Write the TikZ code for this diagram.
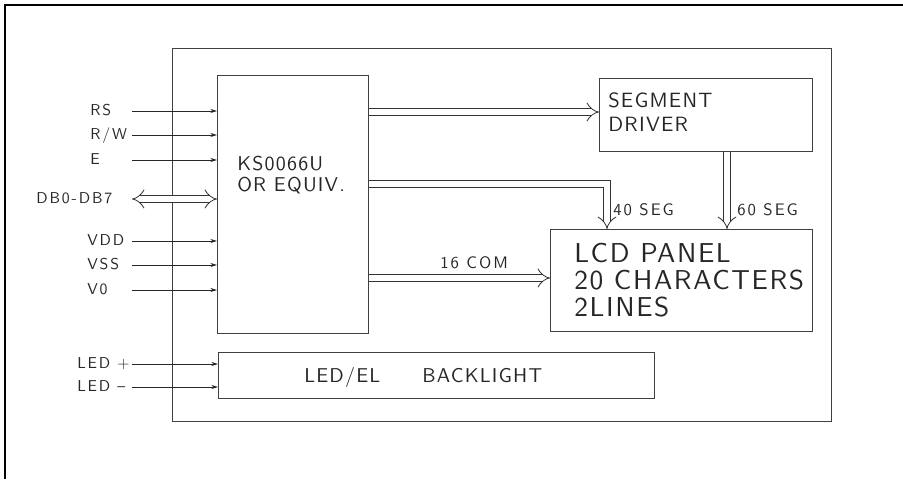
\documentclass[tikz,border=0pt]{standalone}
\usepackage{fontspec}
\newfontfamily\cadfont{lmsans10-regular}[Extension=.otf,LetterSpace=6]
\newfontfamily\pinfont{lmsans10-regular}[Extension=.otf,LetterSpace=12]
\usetikzlibrary{arrows.meta}
\newcommand{\cadsize}[1]{\cadfont\fontsize{#1}{#1}\selectfont}
\newcommand{\pinsize}[1]{\pinfont\fontsize{#1}{#1}\selectfont}

\begin{document}
\begin{tikzpicture}[x=0.75pt, y=-0.75pt, every node/.style={font=\pinsize{11.8}, text=black!85, inner sep=0pt},
	box/.style={draw=black!75, line width=0.6pt, anchor=north west},
	sig/.style={black!85, line width=0.6pt, -{Stealth[length=5pt,width=3pt]}},
	bus/.style={draw=black!80, line width=0.6pt, double, double distance=4.5pt, -{Implies}}]
	\useasboundingbox (0,0) rectangle (903,479);
	\draw[line width=1.6pt] (903,5) -- (5,5) -- (5,479);
	% blocks
	\node[box, minimum width=659*0.75pt, minimum height=373*0.75pt] (module) at (172,48) {};
	\node[box, minimum width=151*0.75pt, minimum height=258*0.75pt] (ks) at (217,75) {};
	\node[box, minimum width=213*0.75pt, minimum height=73*0.75pt] (seg) at (599,78) {};
	\node[box, minimum width=262*0.75pt, minimum height=102*0.75pt] (lcd) at (550,229) {};
	\node[box, minimum width=436*0.75pt, minimum height=46*0.75pt] (bl) at (218,352) {};
	\node[font=\cadsize{15}, anchor=base west] (ks-a) at (237,170) {KS0066U};
	\node[font=\cadsize{15}, anchor=base west] (ks-b) at (237,191) {OR EQUIV.};
	\node[font=\cadsize{15.5}, anchor=base west] (seg-a) at (608,107) {SEGMENT};
	\node[font=\cadsize{15.5}, anchor=base west] (seg-b) at (608,131) {DRIVER};
	\foreach \n/\t/\y in {a/LCD PANEL/262, b/20 CHARACTERS/289, c/2LINES/316}
		{\node[font=\cadsize{20.5}, anchor=base west] (lcd-\n) at (574,\y) {\t};}
	\node[font=\cadsize{15}, anchor=base west] (bl-t) at (304,382) {LED/EL\hspace{2.1em}BACKLIGHT};
	% pins
	\foreach \n/\t/\x/\y in {rs/RS/90/111, rw/{R/W}/90/135, e/E/90/160, vdd/VDD/87/241, vss/VSS/87/265, vo/V0/87/290}
		{\node[anchor=base west] (\n) at (\x,\y+4) {\t};
		\coordinate (\n-s) at (132,\y);
		\draw[sig] (\n-s) -- (ks.west |- \n-s);}
	\foreach \n/\t/\y in {ledp/LED~+/364, ledm/LED~–/387}
		{\node[anchor=base west] (\n) at (77,\y+4) {\t};
		\coordinate (\n-s) at (132,\y);
		\draw[sig] (\n-s) -- (bl.west |- \n-s);}
	\node[anchor=base west] (db) at (36,203) {DB0-DB7};
	\coordinate (db-s) at (132,199);
	\draw[bus, {Implies}-{Implies}] (db-s) -- (ks.west |- db-s);
	% buses
	\draw[bus] (ks.east |- 0,112) -- (seg.west |- 0,112);
	\draw[bus] (ks.east |- 0,184) -| (lcd.north -| 607,0);
	\draw[bus] (seg.south -| 727,0) -- (lcd.north -| 727,0);
	\draw[bus] (ks.east |- 0,278) -- (lcd.west |- 0,278);
	\node[font=\pinsize{12.5}, anchor=base west] (seg40) at (613,215) {40 SEG};
	\node[font=\pinsize{12.5}, anchor=base west] (seg60) at (737,215) {60 SEG};
	\node[font=\pinsize{12.5}, anchor=base west] (com16) at (440,268) {16 COM};
\end{tikzpicture}
\end{document}
